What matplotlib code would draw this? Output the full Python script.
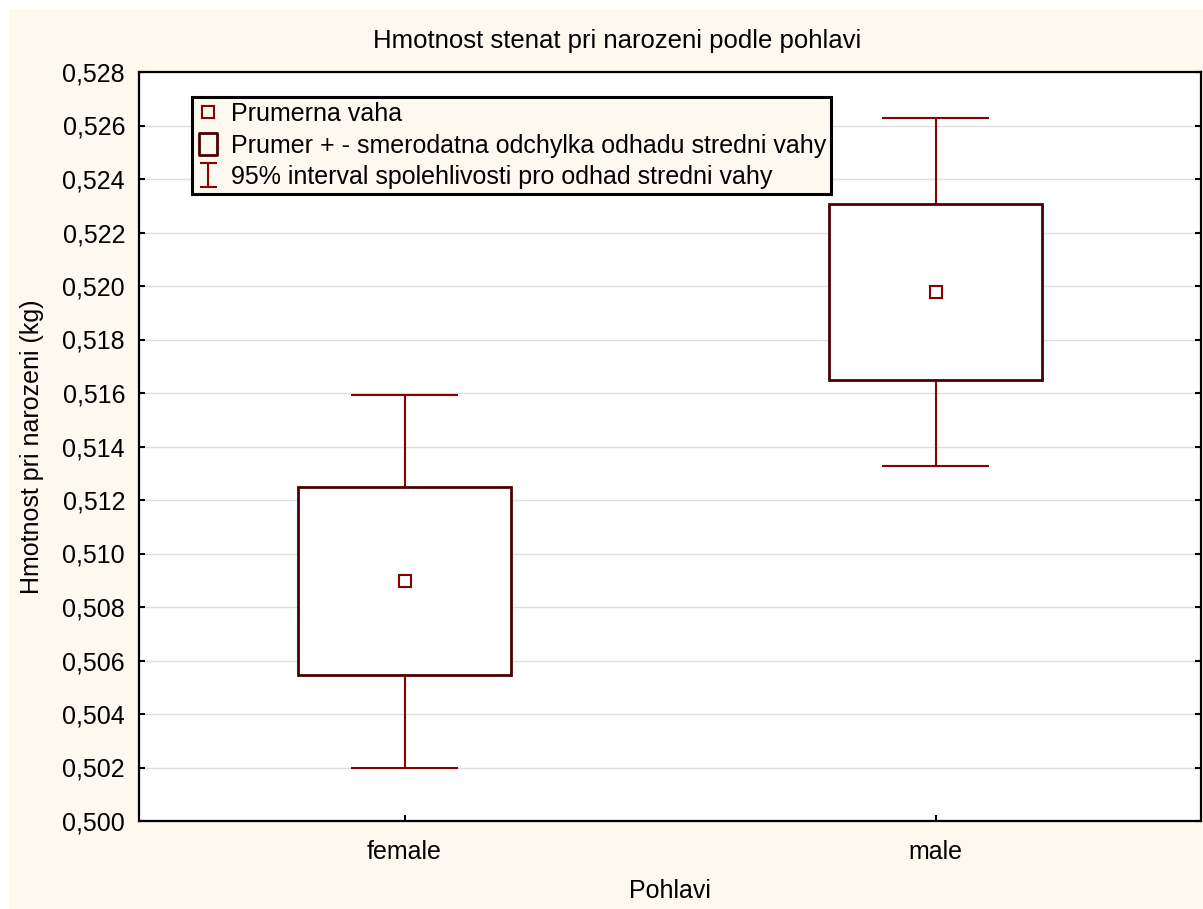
import matplotlib.pyplot as plt
from matplotlib.lines import Line2D
from matplotlib.patches import Rectangle
from matplotlib.path import Path
from matplotlib.ticker import FuncFormatter, MultipleLocator

plt.rcParams['font.family'] = ['Liberation Sans', 'DejaVu Sans']

# prumerna vaha, smerodatna chyba a polovina 95% intervalu
groups = ["female", "male"]
means = [0.50897, 0.51978]
se = [0.00352, 0.00329]
ci_half = [0.00697, 0.00651]

cream = '#FEF9EF'
red = '#8B0000'
dark = '#4A0000'
fs = 18

fig = plt.figure(figsize=(12.03, 9.09), dpi=100, facecolor='white')
fig.patches.append(Rectangle((9 / 1203, 0), 1, 900 / 909, transform=fig.transFigure,
                             facecolor=cream, edgecolor='none', zorder=-10))
ax = fig.add_axes([139 / 1203, 1 - 821 / 909, 1062 / 1203, 749 / 909])
ax.set_facecolor('white')

x = list(range(len(groups)))
for i in x:
    lo_ci, hi_ci = means[i] - ci_half[i], means[i] + ci_half[i]
    ax.vlines(i, lo_ci, hi_ci, color=red, lw=1.5, zorder=2)
    ax.hlines([lo_ci, hi_ci], i - 0.1, i + 0.1, color=red, lw=1.5, zorder=2)
ax.bar(x, [2 * s for s in se], bottom=[m - s for m, s in zip(means, se)], width=0.4,
       facecolor='white', edgecolor=dark, lw=2, zorder=3)
ax.plot(x, means, ls='none', marker='s', ms=8, mfc='white', mec=red, mew=1.5, zorder=4)

ax.set_xlim(-0.5, 1.5)
ax.set_ylim(0.500, 0.528)
ax.set_xticks(x)
ax.set_xticklabels(groups)
ax.yaxis.set_major_locator(MultipleLocator(0.002))
ax.yaxis.set_major_formatter(FuncFormatter(lambda v, p: f"{v:.3f}".replace('.', ',')))
ax.grid(axis='y', color='#DDDDDD', lw=1, zorder=0)
ax.set_axisbelow(True)
ax.tick_params(axis='both', direction='in', length=4, width=1.5, labelsize=fs, pad=10)
ax.tick_params(axis='y', right=True)
ax.tick_params(axis='x', pad=14)
for s in ax.spines.values():
    s.set_linewidth(1.6)

ax.set_xlabel("Pohlavi", fontsize=fs, va='center')
ax.xaxis.set_label_coords(0.5, (821 - 891) / 749)
ax.set_ylabel("Hmotnost pri narozeni (kg)", fontsize=fs, va='center')
ax.yaxis.set_label_coords((32 - 139) / 1062, 0.5)
fig.text(617 / 1203, 1 - 41 / 909, "Hmotnost stenat pri narozeni podle pohlavi",
         ha='center', va='center', fontsize=18.5)

# znacky do legendy
box_path = Path([(-0.4, -0.5), (0.4, -0.5), (0.4, 0.5), (-0.4, 0.5), (-0.4, -0.5)],
                [Path.MOVETO, Path.LINETO, Path.LINETO, Path.LINETO, Path.CLOSEPOLY])
ibar_path = Path([(-0.36, 0.5), (0.36, 0.5), (0, 0.5), (0, -0.5), (-0.36, -0.5), (0.36, -0.5)],
                 [Path.MOVETO, Path.LINETO, Path.MOVETO, Path.LINETO, Path.MOVETO, Path.LINETO])
handles = [
    Line2D([], [], ls='none', marker='s', ms=8, mfc='none', mec=red, mew=1.5),
    Line2D([], [], ls='none', marker=box_path, ms=16, mfc='none', mec=dark, mew=2),
    Line2D([], [], ls='none', marker=ibar_path, ms=17, mfc='none', mec=red, mew=1.5),
]
labels = ["Prumerna vaha",
          "Prumer + - smerodatna odchylka odhadu stredni vahy",
          "95% interval spolehlivosti pro odhad stredni vahy"]
leg = ax.legend(handles, labels, loc='upper left', bbox_to_anchor=(53 / 1062, 1 - 25 / 749),
                fontsize=fs, fancybox=False, framealpha=1, facecolor=cream, edgecolor='black',
                handlelength=0.9, handletextpad=0.45, borderpad=0.2, labelspacing=0.3,
                borderaxespad=0)
leg.get_frame().set_linewidth(2.2)

fig.savefig("out.png", dpi=100, facecolor=fig.get_facecolor())
